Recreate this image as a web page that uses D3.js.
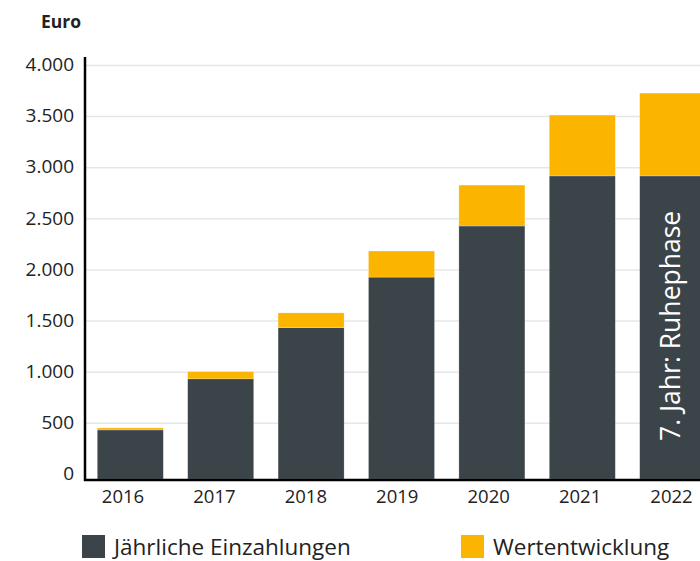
<!DOCTYPE html>
<html>
<head>
<meta charset="utf-8">
<script src="https://cdn.jsdelivr.net/npm/d3@7"></script>
<style>
  body { margin: 0; background: #fff; }
  svg { display: block; font-family: "Open Sans", sans-serif; }
  .grid line { stroke: #e4e7e9; stroke-width: 1.5; }
  .grid .domain { display: none; }
  .tick text { fill: #222; }
</style>
</head>
<body>
<div id="container"></div>
<script>
// data
var years = ["2016", "2017", "2018", "2019", "2020", "2021", "2022"];
var einzahlungen = [430, 930, 1430, 1925, 2425, 2915, 2915];
var wertentwicklung = [20, 70, 145, 255, 400, 595, 810];
var yTicks = [0, 500, 1000, 1500, 2000, 2500, 3000, 3500, 4000];
var seriesNames = ["Jährliche Einzahlungen", "Wertentwicklung"];
var colors = ["#3b4449", "#fbb400"];

var width = 700, height = 561;

var data = years.map(function(y, i) {
  return {year: y, einzahlungen: einzahlungen[i], wertentwicklung: wertentwicklung[i]};
});

var stack = d3.stack().keys(["einzahlungen", "wertentwicklung"]);
var series = stack(data);

// scales
var xScale = d3.scaleBand()
  .domain(years)
  .range([86, 717])
  .paddingInner(0.27)
  .paddingOuter(0.125);

var labelScale = d3.scalePoint()
  .domain(years)
  .range([122.5, 671]);

// baseline sits a little below 0
var yScale = d3.scaleLinear()
  .domain([-50, 4000])
  .range([479, 65]);

var svg = d3.select("#container").append("svg")
  .attr("width", width)
  .attr("height", height);

// gridlines
svg.append("g")
  .attr("class", "grid")
  .attr("transform", "translate(86,0)")
  .call(d3.axisLeft(yScale).tickValues(yTicks.slice(1)).tickSize(-(width - 86)).tickFormat(""));

// bars
svg.selectAll(".layer")
  .data(series)
  .enter().append("g")
    .attr("class", "layer")
    .attr("fill", function(d, i) { return colors[i]; })
  .selectAll("rect")
  .data(function(d) { return d; })
  .enter().append("rect")
    .attr("x", function(d) { return xScale(d.data.year); })
    .attr("y", function(d) { return yScale(d[1]); })
    .attr("height", function(d) { return (d[0] === 0 ? yScale(-50) : yScale(d[0])) - yScale(d[1]); })
    .attr("width", xScale.bandwidth())
    .attr("stroke", "#fff")
    .attr("stroke-opacity", 0.35)
    .attr("stroke-width", 0.6);

// label in last bar
var last = years[years.length - 1];
svg.append("text")
  .attr("transform", "translate(" + (xScale(last) + xScale.bandwidth() / 2 + 7) + ",441) rotate(-90)")
  .attr("fill", "#fff")
  .attr("font-size", "26.5px")
  .text("7. Jahr: Ruhephase");

// y axis
var yAxis = svg.append("g")
  .attr("transform", "translate(74,0)")
  .call(d3.axisLeft(yScale)
    .tickValues(yTicks)
    .tickSize(0)
    .tickPadding(0)
    .tickFormat(function(d) { return d3.format(",")(d).replace(",", "."); }));
yAxis.select(".domain").remove();
yAxis.selectAll(".tick text").attr("font-size", "19px").attr("font-family", "Open Sans").attr("dy", "0.3em");

svg.append("line")
  .attr("x1", 85).attr("x2", 85)
  .attr("y1", 57).attr("y2", 481)
  .attr("stroke", "#000").attr("stroke-width", 2.5);

// x axis
var xAxis = svg.append("g")
  .attr("transform", "translate(0,480)")
  .call(d3.axisBottom(labelScale).tickSize(0).tickPadding(10));
xAxis.select(".domain").remove();
xAxis.selectAll(".tick text").attr("font-size", "18.5px").attr("font-family", "Open Sans");

svg.append("line")
  .attr("x1", 84).attr("x2", width)
  .attr("y1", 480).attr("y2", 480)
  .attr("stroke", "#000").attr("stroke-width", 2.5);

// axis title
svg.append("text")
  .attr("x", 41).attr("y", 28)
  .attr("font-size", "17.5px")
  .attr("font-weight", "bold")
  .attr("fill", "#222")
  .text("Euro");

// legend
var legendX = [82, 461];
var legend = svg.selectAll(".legend")
  .data(seriesNames)
  .enter().append("g")
    .attr("class", "legend")
    .attr("transform", function(d, i) { return "translate(" + legendX[i] + ",535)"; });

legend.append("rect")
  .attr("width", 23).attr("height", 23)
  .attr("fill", function(d, i) { return colors[i]; });

legend.append("text")
  .attr("x", 32).attr("y", 20)
  .attr("font-size", "22.5px")
  .attr("fill", "#222")
  .text(function(d) { return d; });
</script>
</body>
</html>
